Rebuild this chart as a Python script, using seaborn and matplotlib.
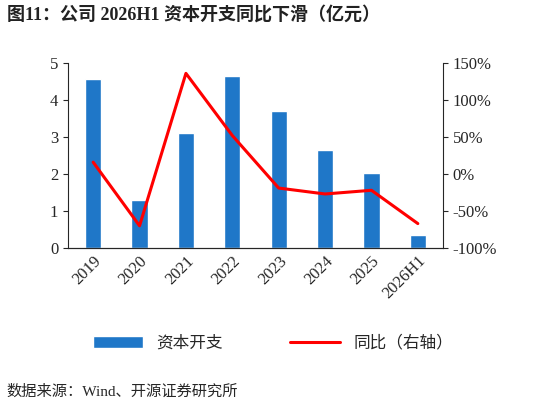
import matplotlib
matplotlib.use("Agg")
import matplotlib.pyplot as plt
import seaborn as sns
import pandas as pd
from matplotlib.ticker import FuncFormatter

years = ["2019", "2020", "2021", "2022", "2023", "2024", "2025", "2026H1"]
capex = [4.57, 1.30, 3.10, 4.65, 3.70, 2.65, 2.03, 0.35]
yoy = [16, -70, 136, 52, -19, -27, -22, -67]

sns.set_style("ticks")
plt.rcParams['font.family'] = ['Liberation Serif', 'Noto Sans CJK SC']

df = pd.DataFrame({"year": years, "capex": capex, "yoy": yoy})
fig = plt.figure(figsize=(5.46, 4.08), dpi=100)
ax = fig.add_axes([68/546, 1-248/408, (443-68)/546, (248-63)/408])
sns.barplot(data=df, x="year", y="capex", color="#1f77c8", width=0.35, ax=ax, saturation=1, label="资本开支")
ax.set_ylim(0, 5)
ax.set_xlabel(""); ax.set_ylabel("")
ax.tick_params(axis='x', rotation=45, labelsize=12, length=0)
ax.tick_params(axis='y', labelsize=12)
for l in ax.get_xticklabels():
    l.set_ha('right'); l.set_rotation_mode('anchor')
ax2 = ax.twinx()
sns.lineplot(x=list(range(len(years))), y=yoy, color="red", linewidth=2.2, ax=ax2, label="同比（右轴）", legend=False)
ax2.set_ylim(-100, 150)
ax2.set_yticks([-100, -50, 0, 50, 100, 150])
ax2.yaxis.set_major_formatter(FuncFormatter(lambda v, p: f"{int(v)}%"))
ax2.tick_params(axis='y', labelsize=12)
for a in (ax, ax2):
    for s in a.spines.values():
        s.set_visible(False)
    a.spines['bottom'].set_visible(True)
ax.spines['left'].set_visible(True)
ax2.spines['right'].set_visible(True)

h1, l1 = ax.get_legend_handles_labels()
h2, l2 = ax2.get_legend_handles_labels()
fig.legend(h1 + h2, l1 + l2, loc='center', bbox_to_anchor=(0.5, 1-343/408), ncol=2, frameon=False,
           prop={'family': ['Noto Sans CJK SC'], 'size': 12}, handlelength=3, columnspacing=4)
if ax.get_legend(): ax.get_legend().remove()

fig.text(0.012, 1-15/408, "图11：公司 2026H1 资本开支同比下滑（亿元）", fontsize=13, fontweight='bold',
         va='center', family=['Liberation Serif', 'Noto Sans CJK SC'], color="#222")
fig.text(0.012, 1-392/408, "数据来源：Wind、开源证券研究所", fontsize=11, va='center',
         family=['Liberation Serif', 'Noto Sans CJK SC'])
fig.savefig("out.png", dpi=100)
